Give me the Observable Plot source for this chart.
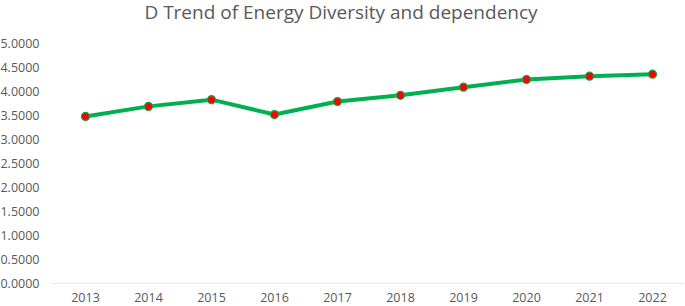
<!DOCTYPE html>
<html>
<head>
<meta charset="utf-8">
<script src="https://cdn.jsdelivr.net/npm/d3@7"></script>
<script src="https://cdn.jsdelivr.net/npm/@observablehq/plot@0.6"></script>
<style>
  html, body { margin: 0; padding: 0; background: #fff; }
  #wrap { position: relative; width: 685px; height: 306px; overflow: hidden; }
  #title { position: absolute; left: 0; top: -1px; width: 682px; text-align: center;
    font-family: "Open Sans", sans-serif; font-size: 19px; color: #595959; line-height: 26px; }
  #chart { position: absolute; left: 0; top: 0; }
</style>
</head>
<body>
<div id="wrap">
  <div id="chart"></div>
  <div id="title">D Trend of Energy Diversity and dependency</div>
</div>
<script>
const years = ["2013", "2014", "2015", "2016", "2017", "2018", "2019", "2020", "2021", "2022"];
const values = [3.48, 3.69, 3.83, 3.52, 3.79, 3.92, 4.09, 4.25, 4.32, 4.36];
const yTicks = [0, 0.5, 1, 1.5, 2, 2.5, 3, 3.5, 4, 4.5, 5];

const data = years.map((y, i) => ({year: y, value: values[i]}));

const chart = Plot.plot({
  width: 685,
  height: 306,
  marginLeft: 52,
  marginRight: 1,
  marginTop: 43,
  marginBottom: 23,
  style: {fontFamily: "'Open Sans', sans-serif", fontSize: "12.5px", color: "#595959", background: "#fff"},
  x: {type: "point", domain: years, padding: 0.5, label: null, tickSize: 0, tickPadding: 10},
  y: {domain: [0, 5], ticks: yTicks, tickFormat: d => d.toFixed(4), label: null, tickSize: 0, tickPadding: 13},
  marks: [
    Plot.ruleY([0], {stroke: "#e6e6e6", strokeWidth: 1}),
    Plot.line(data, {x: "year", y: "value", stroke: "#00B050", strokeWidth: 4, strokeLinejoin: "round", strokeLinecap: "round"}),
    Plot.dot(data, {x: "year", y: "value", r: 4, fill: "#FF0000", stroke: "#00B050", strokeWidth: 1.2})
  ]
});
document.getElementById("chart").appendChild(chart);
</script>
</body>
</html>
